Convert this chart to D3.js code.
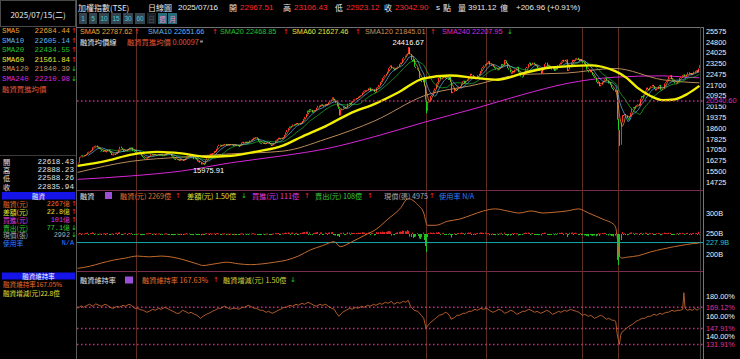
<!DOCTYPE html>
<html><head><meta charset="utf-8">
<script src="https://cdn.jsdelivr.net/npm/d3@7"></script>
<style>body{margin:0;background:#000;overflow:hidden}svg{display:block}</style>
</head><body><svg id="c" width="740" height="359"></svg>
<script>
// ---------------- DATA ----------------
// daily closes of TAIEX, 2023-05-25 .. 2025-07-16 (read/estimated from the chart)
const closes = [
16100,16505,16550,16640,16579,
16620,16660,16700,16850,16900,16950,17000,17200,17250,17288,17334,17202,17150,17130,17050,16950,16930,16970,16890,16915,
17030,16940,16800,16660,16700,16650,16750,16850,16820,17050,17250,17150,17050,16900,16950,17030,17000,17100,17180,17145,
17200,16950,16880,16850,16800,16760,16820,16700,16600,16500,16450,16380,16400,16480,16550,16600,16720,16690,16650,16720,16650,16634,
16700,16720,16650,16700,16580,16650,16750,16800,16810,16780,16720,16560,16520,16400,16380,16300,16350,16320,16240,16353,
16300,16250,16350,16400,16550,16600,16700,16650,16630,16540,16350,16450,16320,16200,16220,16100,16000,16050,16010,16001,
16300,16520,16600,16550,16750,16720,16800,16950,16900,17100,17300,17400,17350,17300,17350,17400,17450,17350,17400,17420,17380,17433,
17380,17350,17400,17380,17350,17300,17280,17350,17550,17600,17500,17600,17550,17600,17550,17700,17750,17800,17900,17910,17930,
17850,17650,17550,17500,17470,17550,17450,17500,17520,17600,17500,17400,17300,17380,17520,17700,17750,17800,17900,17850,17800,17889,
17900,18100,18300,18450,18600,18700,18650,18750,18850,18800,18900,18950,18900,18850,18966,
18950,19100,19250,19400,19600,19850,19750,19950,19880,19700,19800,19850,19900,20050,20200,20150,20250,20300,20200,20150,20294,
20330,20300,20450,20550,20650,20800,20700,20550,20400,20150,19980,19500,19900,20000,20150,20100,20000,20050,20350,20397,
20300,20500,20550,20650,20700,20750,20750,20850,20900,20950,21150,21250,21300,21250,21300,21450,21500,21250,21350,21380,21180,21174,
21500,21550,21700,21900,22000,22200,22300,22400,22500,22650,22900,23000,23100,22900,22850,22750,22850,22950,23032,
23200,23300,23300,23600,23700,23800,23900,23950,24390,23900,23500,23400,23550,23000,22900,22800,22700,22200,22000,21900,22199,
21638,20630,19830,20500,20500,20900,21000,21100,21300,21450,21800,21900,22200,22300,22100,22200,22400,22300,22200,22150,22050,22268,
21900,21100,21200,21400,21350,21300,21500,21550,21600,21800,21950,22000,21800,22000,22100,22200,22300,22500,22400,22200,22224,
22100,22200,22400,22500,22700,22900,23000,23100,23200,23250,23300,23400,23150,23100,23150,23000,22900,22800,22820,
22800,22900,22950,23200,23100,23500,23450,23250,22900,22800,22600,22500,22700,22600,22800,22900,23000,22600,22400,22300,22262,
22400,22600,22900,23000,23200,23300,23100,23150,23300,23200,23100,23050,22900,22800,22700,22500,22800,22900,23200,23300,23100,23035,
23000,22900,22800,23000,22700,22900,22800,23100,23200,23300,23400,23500,23400,23500,23525,
22700,22800,23100,23300,23500,23400,23500,23600,23650,23500,23400,23550,23400,23300,23200,23100,22800,22700,22600,
22800,22600,22400,22300,22200,21900,21800,21900,21600,21700,21900,22000,22100,22200,22000,21800,21900,21700,21500,21400,21298,
21200,21300,19232,18459,17392,19000,19528,19500,19600,19500,19300,19200,19400,19700,20000,20100,20000,20200,20235,
20300,20200,20700,20900,20800,21000,21300,21500,21400,21300,21500,21600,21700,21600,21400,21300,21400,21600,21700,21350,21347,
21400,21800,21900,22000,22100,22300,22400,22100,22000,21900,21800,21800,22000,21950,22200,22300,22400,22450,22300,22288,
22450,22600,22500,22550,22400,22500,22650,22700,22750,22620,22835.94,23042.90
];
// explicit opens for a few days: [dayIndex, open]
const openFix = [[520,22618.43],[521,22967.51]];
// notable highs/lows: [dayIndex, high, low]
const wickFix = [[103,null,15975.91],[277,24416.67,null],[292,null,19662.74],[452,null,19200],[454,null,17306.97],[520,22888.23,22588.26],[521,23106.43,22923.12]];
// long moving averages: [dayIndex, value]
const sma60Pts = [[0,15870],[25,16250],[45,16680],[67,16880],[87,16770],[107,16530],[129,16600],[150,16900],[172,17330],[187,17930],[208,18730],[228,19630],[250,20370],[269,21170],[290,22170],[312,22370],[333,22200],[352,22070],[373,22530],[395,22930],[410,23030],[429,23100],[450,22700],[460,22200],[469,21500],[480,20900],[490,20600],[500,20650],[510,21000],[521,21627]];
const sma120Pts = [[0,15400],[45,16200],[87,16500],[129,16740],[172,16930],[208,17800],[250,19150],[290,20900],[333,21700],[373,22450],[410,22550],[450,22880],[490,22070],[521,21845]];
const sma240Pts = [[0,14900],[45,15150],[87,15500],[129,16100],[172,16600],[208,17100],[250,18000],[290,19000],[333,20000],[373,21000],[410,21800],[450,22250],[490,22350],[510,22250],[521,22208]];
const priceTicks = [25575,24800,24025,23250,22475,21700,20925,20150,19375,18600,17825,17050,16275,15500,14725];
const priceMark = 20540.60;
const peakLabel = [277, 24416.67];
const lowLabel = [103, 15975.91];
const eventDays = [49,292,342,423,453];
// margin balance (億) [dayIndex, value]
const marginBal = [[0,1650],[10,1700],[20,1780],[30,1850],[40,1900],[50,1950],[60,1930],[70,1950],[80,1920],[90,1850],[100,1760],[105,1720],[115,1760],[125,1800],[135,1760],[145,1740],[155,1760],[165,1800],[175,1850],[185,1950],[195,2100],[205,2200],[215,2300],[220,2180],[230,2300],[240,2450],[250,2600],[260,2850],[270,3100],[277,3350],[285,3200],[290,3000],[293,2700],[300,2700],[310,2800],[320,2850],[330,2950],[340,3050],[350,3100],[360,3050],[370,3000],[380,3050],[390,3000],[400,3020],[410,3050],[420,3100],[428,3000],[440,2850],[450,2700],[452,2450],[453,2150],[454,1950],[456,1900],[460,1920],[470,1960],[480,2050],[490,2120],[500,2180],[510,2230],[520,2267],[521,2269]];
// daily margin change (億)
const marginDiff = [
3,12,8,-2,6,
5,9,11,14,-3,8,10,16,12,-6,7,3,-9,4,6,-2,5,8,-4,6,
10,-5,-8,4,6,-3,9,12,-2,15,18,-6,-4,3,7,9,-3,8,10,5,
12,-10,-6,3,-4,2,7,-8,-12,-9,-6,-4,5,8,6,9,11,-3,2,6,-2,4,
5,7,-3,4,-6,3,8,6,2,-4,-5,-10,-8,-12,-6,-9,4,-3,-8,2,
-4,-6,3,5,8,4,7,-2,-3,-6,-12,5,-8,-10,-4,-9,-14,3,-5,-4,
6,8,5,-3,9,2,6,7,-2,8,10,6,-3,-4,5,3,6,-5,2,3,-4,4,
-3,-5,2,-4,-6,-3,-2,4,8,6,-5,5,-3,4,-4,6,5,7,8,3,2,
-6,-10,-8,-5,-3,4,-6,2,3,5,-4,-7,-9,3,6,9,7,8,10,-3,-4,6,
5,10,14,12,16,11,-4,12,15,-3,9,12,-5,-3,10,
8,15,18,20,22,25,-8,18,-6,-12,10,12,14,18,20,-4,16,15,-7,-5,14,
10,-6,14,16,18,20,-8,-12,-15,-20,-18,-30,12,10,14,-4,-6,6,18,16,
-5,14,10,12,9,11,8,13,10,12,18,16,14,-6,8,15,14,-12,9,10,-15,-4,
20,12,18,22,15,25,18,20,22,25,30,28,26,-15,-8,-12,10,14,18,
22,25,20,35,30,28,25,40,30,-25,-30,15,-40,-30,-25,10,-20,-45,-50,-30,15,
-60,-120,-180,-30,10,15,12,8,14,10,16,12,20,14,-5,8,12,-6,-4,-3,-8,10,
-12,-35,-10,8,-5,-6,10,9,8,14,12,10,-8,12,10,14,12,16,-5,-10,6,
-4,8,12,10,14,16,12,10,14,8,6,10,-12,-5,6,-8,-10,-12,4,
-3,6,5,12,-6,14,-4,-10,-18,-12,-15,-10,8,-6,10,6,8,-15,-12,-8,-6,
6,10,14,12,15,10,-8,5,10,-6,-8,-5,-10,-12,-8,-15,10,8,14,12,-6,-4,
-5,-8,-10,6,-12,8,-6,10,12,10,14,12,-6,8,10,
-30,-8,12,14,15,-6,10,12,8,-10,-8,10,-12,-10,-14,-12,-20,-18,-25,
-10,-15,-20,-12,-14,-22,-15,8,-18,6,10,8,12,10,-10,-16,6,-12,-20,-18,-25,
-15,10,-260,-310,-230,-60,20,-10,8,-5,-12,-8,10,14,16,12,-6,10,8,
6,-4,10,12,-5,8,14,12,-6,-4,10,8,9,-5,-10,-6,8,10,9,-12,-4,
6,14,10,9,8,12,10,-10,-8,-6,-5,4,10,-4,12,9,11,8,-6,5,
10,12,-6,8,-10,9,12,8,10,-8,23,2
];
const marginTicks = [300,250,200];
const marginMark = 227.9;
// margin maintenance ratio (%) [dayIndex, value]
const ratioPts = [[0,168],[3,170.5],[5,169],[8,171],[10,172],[13,170],[15,172.5],[18,171],[20,170],[23,172],[25,171],[28,168.5],[30,168],[33,170],[35,169],[38,171],[40,170],[43,172],[45,171],[48,168],[50,168],[53,166.5],[55,166],[58,164],[60,165],[63,167],[65,166],[68,168],[70,167],[73,169],[75,168],[78,166],[80,165],[83,163],[85,163],[88,166],[90,165],[93,163],[95,164],[98,162],[100,161],[103,158],[105,160],[108,162],[110,163],[113,165],[115,166],[118,168],[120,168],[123,170],[125,169],[128,167],[130,168],[133,168],[135,167],[138,169],[140,169],[143,171],[145,170],[148,168],[150,168],[153,166],[155,166],[158,164],[160,165],[163,163],[165,164],[168,166],[170,167],[173,169],[175,169],[178,171],[180,170],[183,172],[185,171],[188,173],[190,172],[193,174],[195,173],[198,171],[200,170],[203,172],[205,171],[208,172],[210,170],[213,168],[215,167],[217,163],[219,160],[222,164],[225,166],[228,168],[230,167],[233,169],[235,168],[238,170],[240,169],[243,171],[245,170],[248,172],[250,171],[253,173],[255,172],[258,174],[260,173],[263,175],[265,172],[268,174],[270,173],[273,175],[275,174],[277,176],[279,170],[282,166],[285,165],[288,161],[290,158],[291,153],[292,147.91],[293,150],[295,153],[298,156],[300,158],[303,161],[306,162],[308,164],[310,163],[312,160],[313,157],[316,159],[318,161],[320,161],[323,163],[325,163],[328,165],[330,165],[333,167],[335,166],[338,168],[340,167],[343,168],[345,166],[348,164],[350,165],[353,167],[355,166],[358,163],[360,164],[363,166],[365,165],[368,162],[370,163],[373,165],[375,165],[378,167],[380,166],[383,164],[385,165],[388,163],[390,164],[393,166],[395,165],[398,162],[400,163],[403,165],[405,164],[408,166],[410,165],[413,167],[415,166],[418,165],[420,164],[423,161],[425,162],[428,160],[430,161],[433,158],[435,159],[438,161],[440,160],[443,157],[445,158],[448,156],[450,156],[451,154],[452,143],[453,137],[454,131.91],[455,141],[456,144],[458,146],[460,148],[462,150],[465,152],[468,155],[470,156],[473,158],[475,158],[478,160],[480,160],[483,162],[485,161],[488,163],[490,162],[493,164],[495,164],[498,166],[500,165],[503,166],[505,166],[507,167],[508,183.6],[509,168],[511,166],[513,167],[515,166],[517,168],[519,166],[520,167.05],[521,167.63]];
const ratioTicks = [180,160,140];
const ratioMarks = [169.12,147.91,131.91];

// ---------------- DRAW ----------------
const SANS = "'Noto Sans CJK TC','Noto Sans',sans-serif";
const NUM = "'Liberation Sans',Arial,sans-serif";
const MONO = "'Liberation Mono','DejaVu Sans Mono',monospace";
const RED = '#ff2a2a', GRN = '#22d022';
const svg = d3.select('#c');
svg.append('rect').attr('width',740).attr('height',359).attr('fill','#000');

const X0 = 77, X1 = 700, AX = 703;
const x = d3.scaleLinear().domain([-0.5, closes.length - 0.5]).range([X0, X1]);
const yP = d3.scaleLinear().domain([14725, 25575]).range([181.8, 31]);
const yM = d3.scaleLinear().domain([200, 300]).range([254, 213]);
const yD = d3.scaleLinear().domain([0, -310]).range([234, 265]);
const yR = d3.scaleLinear().domain([140, 180]).range([336.3, 296.3]);

const defs = svg.append('defs');
function clip(id, y0, y1) { defs.append('clipPath').attr('id', id).append('rect').attr('x', X0).attr('y', y0).attr('width', AX - X0).attr('height', y1 - y0); }
clip('cMain', 27, 190); clip('cMid', 190, 271); clip('cBot', 271, 359);

function txt(g, px, py, s, color, size, anchor, family) {
  return g.append('text').attr('x', px).attr('y', py).attr('fill', color).attr('font-size', size)
    .attr('font-family', family || SANS).attr('text-anchor', anchor || 'start')
    .attr('dominant-baseline', 'central').text(s);
}
function arrow(g, px, py, up) { return txt(g, px, py, up ? '↑' : '↓', up ? RED : GRN, 7, 'start', "'DejaVu Sans',sans-serif"); }

// ---- frames / separators ----
const fr = svg.append('g');
fr.append('line').attr('x1', 76.5).attr('x2', 76.5).attr('y1', 0).attr('y2', 359).attr('stroke', '#5a5a5a');
fr.append('rect').attr('x', 0.5).attr('y', 0.5).attr('width', 75).attr('height', 26).attr('fill', 'none').attr('stroke', '#4a4a4a');
fr.append('line').attr('x1', 76).attr('x2', AX).attr('y1', 27.5).attr('y2', 27.5).attr('stroke', '#707070');
fr.append('line').attr('x1', 0).attr('x2', 76).attr('y1', 155.5).attr('y2', 155.5).attr('stroke', '#3a3a3a');
fr.append('line').attr('x1', X1 + 0.5).attr('x2', X1 + 0.5).attr('y1', 27).attr('y2', 359).attr('stroke', '#404040');
fr.append('line').attr('x1', AX + 0.5).attr('x2', AX + 0.5).attr('y1', 27).attr('y2', 359).attr('stroke', '#5d7f7f');
[190.5, 271.5].forEach(yy => fr.append('line').attr('x1', X0).attr('x2', AX).attr('y1', yy).attr('y2', yy).attr('stroke', '#7a2c4c'));

// event lines
const ev = svg.append('g');
eventDays.forEach(d => ev.append('line').attr('x1', Math.round(x(d)) + 0.5).attr('x2', Math.round(x(d)) + 0.5)
  .attr('y1', 28).attr('y2', 359).attr('stroke', '#5e2e22').attr('stroke-width', 1));

// ---- main panel ----
const gMain = svg.append('g').attr('clip-path', 'url(#cMain)');
const lineIdx = d3.line().x(d => x(d[0])).y(d => yP(d[1])).curve(d3.curveMonotoneX);
gMain.append('path').attr('d', lineIdx(sma240Pts)).attr('fill', 'none').attr('stroke', '#d826d8').attr('stroke-width', 1);
gMain.append('path').attr('d', lineIdx(sma120Pts)).attr('fill', 'none').attr('stroke', '#b88a5a').attr('stroke-width', 1);

const candles = closes.map((c, i) => {
  let o = i ? closes[i - 1] : c;
  const of = openFix.find(d => d[0] === i); if (of) o = of[1];
  let h = Math.max(o, c), l = Math.min(o, c);
  const w = wickFix.find(d => d[0] === i);
  if (w) { if (w[1] != null) h = w[1]; if (w[2] != null) l = w[2]; }
  return { i, o, c, h, l };
});
gMain.selectAll('rect.k').data(candles).join('rect').attr('class', 'k')
  .attr('x', d => Math.round(x(d.i))).attr('width', 1)
  .attr('y', d => yP(d.h)).attr('height', d => Math.max(1, yP(d.l) - yP(d.h)))
  .attr('fill', d => d.c >= d.o ? RED : GRN);

function sma(n) { return closes.map((c, i) => i < n - 1 ? null : d3.mean(closes.slice(i - n + 1, i + 1))); }
const lineArr = d3.line().defined(d => d != null).x((d, i) => x(i)).y(d => yP(d));
[[20, '#1fbf2f'], [10, '#5fb4f0'], [5, '#f0a030']].forEach(([n, col]) =>
  gMain.append('path').attr('d', lineArr(sma(n))).attr('fill', 'none').attr('stroke', col).attr('stroke-width', 0.8).attr('opacity', 0.9));
gMain.append('path').attr('d', lineIdx(sma60Pts)).attr('fill', 'none').attr('stroke', '#f2f000').attr('stroke-width', 2.4);

gMain.append('line').attr('x1', X0).attr('x2', AX).attr('y1', yP(priceMark)).attr('y2', yP(priceMark))
  .attr('stroke', '#d4208c').attr('stroke-width', 1.5).attr('stroke-dasharray', '1.5,2.5');

txt(svg, x(peakLabel[0]), yP(peakLabel[1]) - 5, d3.format('.2f')(peakLabel[1]), '#ffffff', 7.5, 'middle', NUM);
txt(svg, x(lowLabel[0]) + 8, yP(lowLabel[1]) + 6, d3.format('.2f')(lowLabel[1]), '#ffffff', 7.5, 'middle', NUM);

// price axis
const axP = svg.append('g').attr('transform', `translate(${AX},0)`)
  .call(d3.axisRight(yP).tickValues(priceTicks).tickSize(0).tickPadding(3).tickFormat(d3.format('d')));
function styleAxis(g) { g.select('.domain').remove(); g.selectAll('text').attr('fill', '#f0f0f0').attr('font-size', 7.3).attr('font-family', NUM); }
styleAxis(axP);
svg.append('rect').attr('x', AX + 1).attr('y', yP(priceMark) - 3).attr('width', 36).attr('height', 6.5).attr('fill', '#000');
txt(svg, AX + 3, yP(priceMark), d3.format('.2f')(priceMark), '#e0309a', 7.3, 'start', NUM);

// ---- middle panel ----
const gMid = svg.append('g').attr('clip-path', 'url(#cMid)');
gMid.append('line').attr('x1', X0).attr('x2', AX).attr('y1', yM(marginMark)).attr('y2', yM(marginMark)).attr('stroke', '#18a8a8');
gMid.selectAll('rect.b').data(marginDiff).join('rect').attr('class', 'b')
  .attr('x', (d, i) => Math.round(x(i))).attr('width', 1)
  .attr('y', d => yD(Math.max(d, 0))).attr('height', d => Math.max(1, Math.abs(yD(d) - yD(0))))
  .attr('fill', d => d >= 0 ? '#e02424' : '#22c022');
gMid.append('path').attr('d', d3.line().x(d => x(d[0])).y(d => yM(d[1] / 10)).curve(d3.curveMonotoneX)(marginBal))
  .attr('fill', 'none').attr('stroke', '#c46a2c').attr('stroke-width', 1);
const axM = svg.append('g').attr('transform', `translate(${AX},0)`)
  .call(d3.axisRight(yM).tickValues(marginTicks).tickSize(0).tickPadding(3).tickFormat(d => d + 'B'));
styleAxis(axM);
txt(svg, AX + 3, yM(marginMark), marginMark + 'B', '#29c6c6', 7.3, 'start', NUM);

// ---- bottom panel ----
const gBot = svg.append('g').attr('clip-path', 'url(#cBot)');
ratioMarks.forEach(v => gBot.append('line').attr('x1', X0).attr('x2', AX).attr('y1', yR(v)).attr('y2', yR(v))
  .attr('stroke', '#d4208c').attr('stroke-width', 1.5).attr('stroke-dasharray', '1.5,2.5'));
gBot.append('path').attr('d', d3.line().x(d => x(d[0])).y(d => yR(d[1]))(ratioPts))
  .attr('fill', 'none').attr('stroke', '#c4642c').attr('stroke-width', 0.9);
const axR = svg.append('g').attr('transform', `translate(${AX},0)`)
  .call(d3.axisRight(yR).tickValues(ratioTicks).tickSize(0).tickPadding(3).tickFormat(d => d3.format('.2f')(d) + '%'));
styleAxis(axR);
ratioMarks.forEach(v => txt(svg, AX + 3, yR(v), d3.format('.2f')(v) + '%', '#e0309a', 7.3, 'start', NUM));

// ---- header ----
const hd = svg.append('g');
const HY = 7, HF = 8;
txt(hd, 78, HY, '加權指數(TSE)', '#e8e8e8', HF);
txt(hd, 148, HY, '日線圖', '#e8e8e8', HF);
txt(hd, 178, HY, '2025/07/16', '#e8e8e8', HF, 'start', NUM);
[['開', 229, '22967.51', 240], ['高', 283, '23106.43', 294], ['低', 335, '22923.12', 346], ['收', 384, '23042.90', 395]].forEach(([l, lx, v, vx]) => {
  txt(hd, lx, HY, l, '#e8e8e8', HF); txt(hd, vx, HY, v, RED, HF, 'start', NUM);
});
txt(hd, 436, HY, 's', '#e8e8e8', HF, 'start', NUM);
txt(hd, 443, HY, '點', '#e8e8e8', HF);
txt(hd, 458, HY, '量', '#e8e8e8', HF);
txt(hd, 468, HY, '3911.12', '#e8e8e8', HF, 'start', NUM);
txt(hd, 500, HY, '億', '#e8e8e8', HF);
txt(hd, 516, HY, '+206.96 (+0.91%)', '#e8e8e8', HF, 'start', NUM);
const btns = [['1', 79, 9], ['5', 89, 9], ['10', 99, 11], ['15', 111, 11], ['30', 123, 11], ['60', 135, 11], ['日', 147, 10], ['週', 158, 10], ['月', 168, 10]];
btns.forEach(([t, bx, bw], k) => {
  const fill = k === 6 ? '#1c2428' : (k > 6 ? '#256c78' : '#34454f');
  const col = k === 6 ? '#4a5a60' : (k > 6 ? '#ff8ccc' : '#52c6d6');
  hd.append('rect').attr('x', bx).attr('y', 13).attr('width', bw - 1).attr('height', 11).attr('fill', fill);
  txt(hd, bx + (bw - 1) / 2, 18.5, t, col, 6.5, 'middle', k > 5 ? SANS : NUM);
});
txt(hd, 38, 14, '2025/07/15(二)', '#e8e8e8', 8, 'middle');

// main legend
const lg = svg.append('g');
const LY1 = 31.5, LY2 = 41.5, LF = 7.3;
[['SMA5 22787.62', 80, '#f0a030', 134, true], ['SMA10 22651.66', 148, '#5fb4f0', 212, true], ['SMA20 22468.85', 220, '#22c22e', 283, true],
 ['SMA60 21627.46', 292, '#e8e43a', 355, true], ['SMA120 21845.01', 365, '#c8925c', 430, true], ['SMA240 22207.95', 442, '#dc28dc', 507, false]]
  .forEach(([t, lx, c, ax, up]) => { txt(lg, lx, LY1, t, c, LF, 'start', NUM); arrow(lg, ax, LY1, up); });
txt(lg, 80, LY2, '融資均價線', '#e8e8e8', 7.3);
txt(lg, 127, LY2, '融資買進均價 0.00097', '#e0583a', 7.3);
lg.append('rect').attr('x', 200).attr('y', 40.5).attr('width', 3).attr('height', 2).attr('fill', '#888');

// middle legend
const MY = 195.5, MF = 7.2;
txt(lg, 80, MY, '融資', '#e8e8e8', MF);
lg.append('rect').attr('x', 105).attr('y', 192).attr('width', 7).attr('height', 7).attr('fill', '#9b4fd6');
[['融資(元) 2269億', 120, '#e8702e', 175, true], ['差額(元) 1.50億', 187, '#e2e03a', 241, false], ['買進(元) 111億', 252, '#e03ee0', 304, true],
 ['賣出(元) 108億', 315, '#3cd03c', 367, true], ['現償(張) 4975', 384, '#a8a8a8', 429, true], ['使用率 N/A', 439, '#2f7cff', null, true]]
  .forEach(([t, lx, c, ax, up]) => { txt(lg, lx, MY, t, c, MF); if (ax) arrow(lg, ax, MY, up); });

// bottom legend
const BY = 280;
txt(lg, 80, BY, '融資維持率', '#e8e8e8', MF);
lg.append('rect').attr('x', 125).attr('y', 276.5).attr('width', 8).attr('height', 7).attr('fill', '#9b4fd6');
txt(lg, 142, BY, '融資維持率 167.63%', '#e8702e', MF); arrow(lg, 213, BY, true);
txt(lg, 223, BY, '融資增減(元) 1.50億', '#d6d23a', MF); arrow(lg, 290, BY, false);

// ---- left panel ----
const lp = svg.append('g');
[['SMA5', '22684.44', '#f0a030', true], ['SMA10', '22605.14', '#5fb4f0', true], ['SMA20', '22434.55', '#22c22e', true],
 ['SMA60', '21561.84', '#e8e43a', true], ['SMA120', '21840.39', '#c8925c', false], ['SMA240', '22210.98', '#dc28dc', false]]
  .forEach(([l, v, c, up], k) => {
    const yy = 31 + k * 9.5;
    txt(lp, 2, yy, l, c, 7.4, 'start', MONO); txt(lp, 70, yy, v, c, 7.4, 'end', MONO); arrow(lp, 71, yy, up);
  });
txt(lp, 2, 88, '融資買進均價', '#e0583a', 7.4);
[['開', '22618.43'], ['高', '22888.23'], ['低', '22588.26'], ['收', '22835.94']].forEach(([l, v], k) => {
  const yy = 161.5 + k * 8.4;
  txt(lp, 3, yy, l, '#e0e0e0', 7.2); txt(lp, 74, yy, v, '#e0e0e0', 7.6, 'end', MONO);
});
lp.append('rect').attr('x', 2).attr('y', 192).attr('width', 73).attr('height', 7.5).attr('fill', '#1414e8');
txt(lp, 38.5, 195.8, '融資', '#ffffff', 6.5, 'middle');
[['融資(元)', '2267億', '#e8702e', true], ['差額(元)', '22.8億', '#e2e03a', true], ['買進(元)', '101億', '#e03ee0', true],
 ['賣出(元)', '77.1億', '#3cd03c', false], ['現償(張)', '2992', '#a8a8a8', false], ['使用率', 'N/A', '#2f7cff', null]]
  .forEach(([l, v, c, up], k) => {
    const yy = 204 + k * 7.85;
    txt(lp, 3, yy, l, c, 6.8); txt(lp, up === null ? 74 : 70, yy, v, c, 6.8, 'end', MONO);
    if (up !== null) arrow(lp, 71, yy, up);
  });
lp.append('rect').attr('x', 2).attr('y', 272.5).attr('width', 73).attr('height', 7).attr('fill', '#1414e8');
txt(lp, 38.5, 276, '融資維持率', '#ffffff', 6.5, 'middle');
txt(lp, 3, 284, '融資維持率167.05%', '#e8702e', 6.6);
txt(lp, 3, 292.5, '融資增減(元)22.8億', '#e2e03a', 6.6);
</script></body></html>
